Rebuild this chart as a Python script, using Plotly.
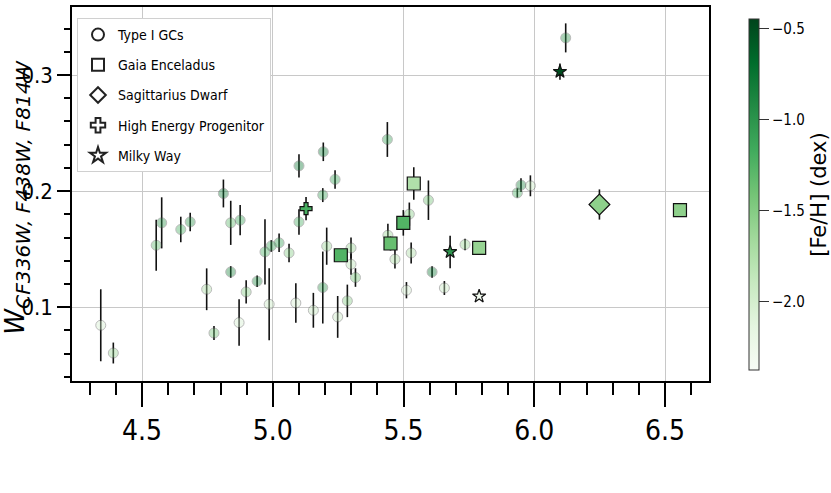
import plotly.graph_objects as go

# ---- data ----
gc_x = [4.342, 4.390, 4.554, 4.575, 4.648, 4.684, 4.747, 4.775, 4.811, 4.839, 4.839, 4.875,
        4.871, 4.898, 4.940, 4.970, 4.986, 4.994, 5.024, 5.062, 5.100, 5.100, 5.088, 5.155,
        5.193, 5.191, 5.191, 5.206, 5.238, 5.248, 5.285, 5.299, 5.299, 5.316, 5.438, 5.440,
        5.467, 5.511, 5.522, 5.529, 5.595, 5.609, 5.656, 5.735, 5.935, 5.949, 5.985, 6.120]
gc_y = [0.0845, 0.0606, 0.1534, 0.1727, 0.1670, 0.1735, 0.1155, 0.0778, 0.1980, 0.1727, 0.1304, 0.1750,
        0.0868, 0.1132, 0.1224, 0.1477, 0.1026, 0.1528, 0.1555, 0.1468, 0.2218, 0.1735, 0.1037, 0.0974,
        0.2339, 0.1966, 0.1170, 0.1526, 0.2101, 0.0917, 0.1055, 0.1511, 0.1370, 0.1256, 0.2445, 0.1620,
        0.1414, 0.1147, 0.1802, 0.1468, 0.1922, 0.1304, 0.1166, 0.1540, 0.1985, 0.2052, 0.2046, 0.3320]
gc_err = [0.031, 0.009, 0.022, 0.022, 0.011, 0.008, 0.018, 0.006, 0.012, 0.019, 0.005, 0.013,
          0.020, 0.010, 0.005, 0.028, 0.031, 0.005, 0.008, 0.008, 0.010, 0.011, 0.017, 0.015,
          0.008, 0.006, 0.031, 0.016, 0.008, 0.018, 0.014, 0.009, 0.009, 0.008, 0.015, 0.010,
          0.008, 0.007, 0.010, 0.009, 0.017, 0.005, 0.006, 0.005, 0.004, 0.006, 0.009, 0.0125]
gc_feh = [-2.0, -1.6, -1.3, -1.0, -1.2, -1.0, -1.7, -1.4, -0.8, -1.3, -0.9, -1.1,
          -2.0, -1.5, -0.9, -1.2, -1.9, -1.1, -1.1, -1.5, -0.8, -1.2, -2.0, -1.9,
          -0.8, -1.1, -1.0, -1.6, -1.1, -1.9, -1.5, -1.6, -1.8, -1.4, -1.1, -1.6,
          -1.7, -2.0, -1.5, -1.7, -1.4, -0.8, -1.9, -1.6, -1.2, -0.9, -1.9, -1.0]

ge_x = [5.260, 5.450, 5.499, 5.539, 5.789, 6.557]
ge_y = [0.1448, 0.1549, 0.1727, 0.2066, 0.1511, 0.1836]
ge_err = [0.004, 0.006, 0.011, 0.014, 0.004, 0.004]
ge_feh = [-1.25, -1.35, -1.25, -1.75, -1.6, -1.55]

sgr_x = [6.249]
sgr_y = [0.1885]
sgr_err = [0.013]
sgr_feh = [-1.55]

hep_x = [5.127]
hep_y = [0.185]
hep_err = [0.010]
hep_feh = [-1.2]

mw_x = [6.098, 5.678, 5.789]
mw_y = [0.3029, 0.1477, 0.1095]
mw_err = [0.007, 0.014, 0.003]
mw_feh = [-0.5, -1.0, -2.3]

legend_names = ["Type I GCs", "Gaia Enceladus", "Sagittarius Dwarf", "High Energy Progenitor", "Milky Way"]
legend_symbols = ["circle-open", "square-open", "diamond-open", "cross-open", "star-open"]

cbar_ticks = [-2.0, -1.5, -1.0, -0.5]
cbar_ticktext = ["\u22122.0", "\u22121.5", "\u22121.0", "\u22120.5"]

# ---- styling ----
greens = [[0.0, "#f7fcf5"], [0.125, "#e5f5e0"], [0.25, "#c7e9c0"], [0.375, "#a1d99b"],
          [0.5, "#74c476"], [0.625, "#41ab5d"], [0.75, "#238b45"], [0.875, "#006d2c"], [1.0, "#00441b"]]
CMIN, CMAX = -2.375, -0.448
NARROW = "DejaVu Sans Condensed, Roboto, sans-serif"

fig = go.Figure()

def err(vals):
    return dict(type="data", array=vals, visible=True, color="#111111", thickness=1.6, width=0)

fig.add_trace(go.Scatter(
    x=gc_x, y=gc_y, mode="markers", showlegend=False, error_y=err(gc_err),
    marker=dict(symbol="circle", size=10, color=gc_feh, colorscale=greens, cmin=CMIN, cmax=CMAX,
                opacity=0.4, line=dict(color="#555555", width=1))))

sym_sets = [
    (ge_x, ge_y, ge_err, ge_feh, "square", 13),
    (sgr_x, sgr_y, sgr_err, sgr_feh, "diamond", 16),
    (hep_x, hep_y, hep_err, hep_feh, "cross", 10),
    (mw_x, mw_y, mw_err, mw_feh, "star", 10),
]
for i, (xs, ys, es, fs, sym, sz) in enumerate(sym_sets):
    extra = {}
    if i == 0:
        extra = dict(showscale=True, colorbar=dict(
            x=(749 - 72) / 637, xanchor="left", xpad=0, y=(381 - 194.5) / 374, yanchor="middle",
            len=371, lenmode="pixels", thickness=10, outlinewidth=1, outlinecolor="#333333",
            ticks="outside", ticklen=10, tickcolor="#333333", tickvals=cbar_ticks, ticktext=cbar_ticktext,
            tickfont=dict(family=NARROW, size=15, color="black"),
            title=dict(text="[Fe/H] (dex)", side="right", font=dict(family="DejaVu Sans", size=21, color="black"))))
    fig.add_trace(go.Scatter(
        x=xs, y=ys, mode="markers", showlegend=False, error_y=err(es),
        marker=dict(symbol=sym, size=sz, color=fs, colorscale=greens, cmin=CMIN, cmax=CMAX,
                    line=dict(color="#111111", width=1.2), **extra)))

for k, (name, sym) in enumerate(zip(legend_names, legend_symbols)):
    fig.add_trace(go.Scatter(x=[None], y=[None], mode="markers", name=name, legendgroup="g%d" % k,
                             marker=dict(symbol=sym, size=7, color="#222222", line=dict(width=1))))

axis_common = dict(showline=True, linecolor="black", linewidth=1.5, mirror=True, zeroline=False,
                   automargin=False,
                   ticks="outside", tickcolor="black", tickwidth=1.5, showgrid=True, gridcolor="#c8c8c8",
                   gridwidth=1)

fig.update_xaxes(range=[4.232, 6.668], tick0=4.5, dtick=0.5, ticklen=24, tickformat=".1f",
                 tickfont=dict(family=NARROW, size=28, color="black"),
                 minor=dict(dtick=0.1, ticklen=12, ticks="outside", tickcolor="black", tickwidth=1.5, showgrid=False),
                 **axis_common)
fig.update_yaxes(range=[0.0365, 0.3586], tick0=0, dtick=0.1, ticklen=13, tickformat=".1f",
                 tickfont=dict(family=NARROW, size=22, color="black"),
                 minor=dict(dtick=0.02, ticklen=6, ticks="outside", tickcolor="black", tickwidth=1.5, showgrid=False),
                 **axis_common)

fig.add_annotation(text="<span style='font-size:26px'><i>W</i></span><sub><i>CF336W, F438W, F814W</i></sub>",
                   textangle=-90, xref="paper", yref="paper", x=(18 - 72) / 637, y=0.49,
                   xanchor="center", yanchor="middle", borderpad=0,
                   showarrow=False, font=dict(family="DejaVu Sans", size=29, color="black"))

fig.update_layout(
    width=831, height=493, margin=dict(l=72, r=122, t=7, b=112, autoexpand=False),
    paper_bgcolor="white", plot_bgcolor="white",
    legend=dict(x=(77 - 72) / 637, y=(381 - 18) / 374, xanchor="left", yanchor="top",
                bgcolor="white", bordercolor="#d0d0d0", borderwidth=1, tracegroupgap=9,
                font=dict(family=NARROW, size=14, color="black"), itemsizing="constant", itemwidth=30),
)

fig.write_html("out.html", config={"displayModeBar": False},
               post_script="document.body.style.margin='0';")
